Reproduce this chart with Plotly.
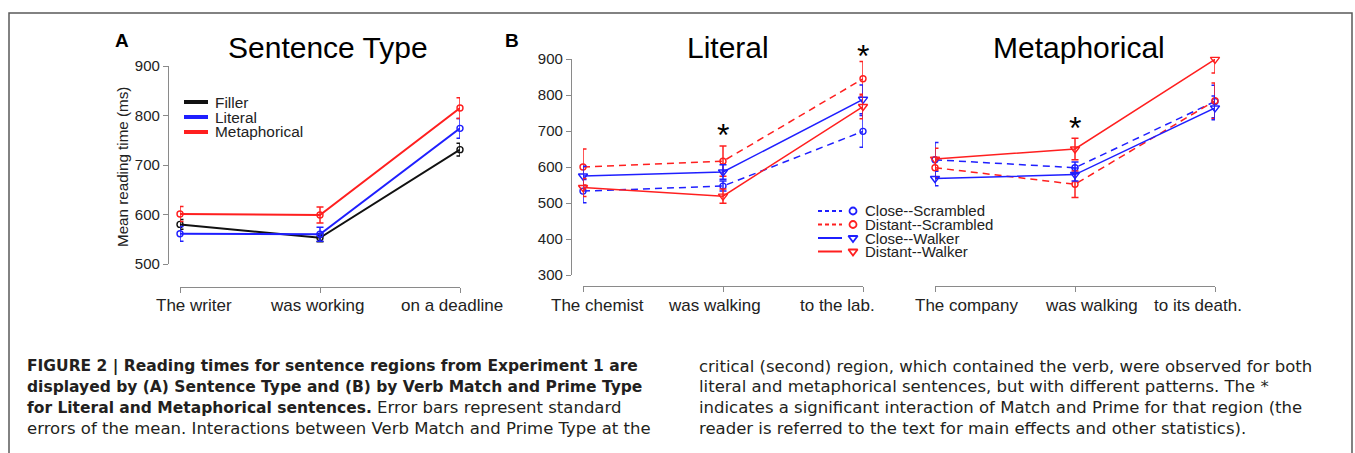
import plotly.graph_objects as go

W, H = 1355, 453

# ---------------- data ----------------
regions_a = ["The writer", "was working", "on a deadline"]
filler_rt = [580, 553, 731]
filler_se = [10, 8, 13]
literal_rt = [561, 560, 774]
literal_se = [15, 14, 20]
metaphor_rt = [601, 599, 815]
metaphor_se = [15, 16, 21]

regions_lit = ["The chemist", "was walking", "to the lab."]
lit_close_scr = [533, 547, 699]
lit_close_scr_se = [32, 14, 44]
lit_dist_scr = [600, 616, 845]
lit_dist_scr_se = [50, 42, 48]
lit_close_walk = [575, 586, 788]
lit_close_walk_se = [27, 20, 40]
lit_dist_walk = [543, 519, 768]
lit_dist_walk_se = [25, 20, 34]

regions_met = ["The company", "was walking", "to its death."]
met_close_scr = [620, 598, 782]
met_close_scr_se = [48, 16, 45]
met_dist_scr = [598, 552, 784]
met_dist_scr_se = [28, 37, 49]
met_close_walk = [568, 579, 764]
met_close_walk_se = [20, 18, 33]
met_dist_walk = [622, 650, 899]
met_dist_walk_se = [30, 30, 38]

a_ticks = [500, 600, 700, 800, 900]
b_ticks = [300, 400, 500, 600, 700, 800, 900]

legend_a = ["Filler", "Literal", "Metaphorical"]
legend_b = ["Close--Scrambled", "Distant--Scrambled", "Close--Walker", "Distant--Walker"]
sig_regions_lit = [1, 2]
sig_regions_met = [1]

BOLD = '<b><span style="font-size:15.5px">%s</span></b>'
caption_left = [
    BOLD % "FIGURE 2 | Reading times for sentence regions from Experiment 1 are",
    BOLD % "displayed by (A) Sentence Type and (B) by Verb Match and Prime Type",
    BOLD % "for Literal and Metaphorical sentences." + " Error bars represent standard",
    "errors of the mean. Interactions between Verb Match and Prime Type at the",
]
caption_right = [
    "critical (second) region, which contained the verb, were observed for both",
    "literal and metaphorical sentences, but with different patterns. The *",
    "indicates a significant interaction of Match and Prime for that region (the",
    "reader is referred to the text for main effects and other statistics).",
]

# ---------------- helpers ----------------
def fx(px):
    return px / W


def fy(py):
    return 1 - py / H


FONT = "Liberation Sans, Arial, Helvetica, sans-serif"
CAPFONT = "DejaVu Sans, sans-serif"
BLUE = "#1f1fff"
RED = "#ff1f1f"
BLACK = "#111111"
AXC = "#8a8a8a"

fig = go.Figure()
idx = [0, 1, 2]


def add_series(vals, se, color, xa, ya, dash="solid", symbol="circle-open", width=1.5, msize=6):
    fig.add_trace(go.Scatter(
        x=idx, y=vals, xaxis=xa, yaxis=ya, mode="lines+markers",
        line=dict(color=color, width=width, dash=dash),
        marker=dict(symbol=symbol, size=msize, color=color, line=dict(color=color, width=1.4)),
        error_y=dict(type="data", array=se, color=color, thickness=1.5, width=3.5),
        cliponaxis=False, showlegend=False, hoverinfo="skip",
    ))


# Panel A
add_series(filler_rt, filler_se, BLACK, "x", "y", width=2)
add_series(literal_rt, literal_se, BLUE, "x", "y", width=2)
add_series(metaphor_rt, metaphor_se, RED, "x", "y", width=2)

DASH = "7px,5px"
# Panel B literal
add_series(lit_close_scr, lit_close_scr_se, BLUE, "x2", "y2", dash=DASH)
add_series(lit_dist_scr, lit_dist_scr_se, RED, "x2", "y2", dash=DASH)
add_series(lit_close_walk, lit_close_walk_se, BLUE, "x2", "y2", symbol="triangle-down-open", msize=8)
add_series(lit_dist_walk, lit_dist_walk_se, RED, "x2", "y2", symbol="triangle-down-open", msize=8)
# Panel B metaphorical
add_series(met_close_scr, met_close_scr_se, BLUE, "x3", "y3", dash=DASH)
add_series(met_dist_scr, met_dist_scr_se, RED, "x3", "y3", dash=DASH)
add_series(met_close_walk, met_close_walk_se, BLUE, "x3", "y3", symbol="triangle-down-open", msize=8)
add_series(met_dist_walk, met_dist_walk_se, RED, "x3", "y3", symbol="triangle-down-open", msize=8)

# legend B markers on a hidden pixel axis
leg_b_styles = [(BLUE, DASH, "circle-open"), (RED, DASH, "circle-open"),
                (BLUE, "solid", "triangle-down-open"), (RED, "solid", "triangle-down-open")]
leg_b_rows = [211, 224.5, 238, 251.5]
for (c, d, s), yy in zip(leg_b_styles, leg_b_rows):
    fig.add_trace(go.Scatter(x=[853], y=[yy], xaxis="x4", yaxis="y4", mode="markers",
                             marker=dict(symbol=s, size=8 if "triangle" in s else 7, color=c,
                                         line=dict(color=c, width=1.8)),
                             showlegend=False, hoverinfo="skip", cliponaxis=False))

common = dict(showgrid=False, zeroline=False, showline=True, linecolor=AXC, linewidth=1.2,
              ticks="outside", ticklen=5, tickcolor=AXC, tickwidth=1.2, automargin=False,
              tickfont=dict(family=FONT, size=15, color="#222"))

fig.update_layout(
    width=W, height=H, margin=dict(l=0, r=0, t=0, b=0, pad=0, autoexpand=False), autosize=False,
    paper_bgcolor="white", plot_bgcolor="rgba(0,0,0,0)",
    xaxis=dict(domain=[fx(180), fx(460)], range=[0, 2], tickvals=idx, showticklabels=False,
               anchor="free", position=fy(286.5), **common),
    yaxis=dict(domain=[fy(264), fy(66)], range=[500, 900], tickvals=a_ticks,
               anchor="free", position=fx(168), **common),
    xaxis2=dict(domain=[fx(583), fx(863)], range=[0, 2], tickvals=idx, showticklabels=False,
                anchor="free", position=fy(286), **common),
    yaxis2=dict(domain=[fy(275), fy(59)], range=[300, 900], tickvals=b_ticks,
                anchor="free", position=fx(571), **common),
    xaxis3=dict(domain=[fx(935), fx(1215)], range=[0, 2], tickvals=idx, showticklabels=False,
                anchor="free", position=fy(286), **common),
    yaxis3=dict(domain=[fy(275), fy(59)], range=[300, 900], visible=False, anchor="x3", automargin=False),
    xaxis4=dict(domain=[0, 1], range=[0, W], visible=False, anchor="y4", automargin=False),
    yaxis4=dict(domain=[0, 1], range=[H, 0], visible=False, anchor="x4", automargin=False),
)

ann = []
shapes = []

# frame
shapes.append(dict(type="rect", xref="paper", yref="paper", x0=fx(9), x1=fx(1352), y0=fy(13), y1=-0.2,
                   line=dict(color="#5a5a5a", width=1.5), fillcolor="rgba(0,0,0,0)"))

# x tick labels
for regs, xa, shifts in [(regions_a, "x", [14, -3, -8]), (regions_lit, "x2", [14, -9, -26]),
                         (regions_met, "x3", [31, 16, -17])]:
    for i, (r, s) in enumerate(zip(regs, shifts)):
        ann.append(dict(x=i, xref=xa, y=fy(305), yref="paper", text=r, showarrow=False,
                        xshift=s, xanchor="center", yanchor="middle",
                        font=dict(family=FONT, size=17, color="#222")))

# titles
for t, x in [("Sentence Type", 328), ("Literal", 728), ("Metaphorical", 1079)]:
    ann.append(dict(x=fx(x), y=fy(48), xref="paper", yref="paper", text=t, showarrow=False,
                    xanchor="center", yanchor="middle", font=dict(family=FONT, size=30, color="black")))
# panel letters
for t, x in [("A", 122), ("B", 512)]:
    ann.append(dict(x=fx(x), y=fy(40), xref="paper", yref="paper", text="<b>%s</b>" % t, showarrow=False,
                    xanchor="center", yanchor="middle", font=dict(family=FONT, size=19, color="black")))
# y title
ann.append(dict(x=fx(122), y=fy(167), xref="paper", yref="paper", text="Mean reading time (ms)",
                textangle=-90, showarrow=False, xanchor="center", yanchor="middle",
                font=dict(family=FONT, size=15.2, color="#222")))

# stars
for r, py in zip(sig_regions_lit, [127, 48]):
    ann.append(dict(x=r, xref="x2", y=fy(py + 8), yref="paper", text="*", showarrow=False,
                    xanchor="center", yanchor="middle", font=dict(family=FONT, size=32, color="black")))
for r, py in zip(sig_regions_met, [120]):
    ann.append(dict(x=r, xref="x3", y=fy(py + 8), yref="paper", text="*", showarrow=False,
                    xanchor="center", yanchor="middle", font=dict(family=FONT, size=32, color="black")))

# legend A
for name, c, yy in zip(legend_a, [BLACK, BLUE, RED], [102, 117, 132]):
    shapes.append(dict(type="line", xref="paper", yref="paper", x0=fx(184), x1=fx(208), y0=fy(yy), y1=fy(yy),
                       line=dict(color=c, width=4)))
    ann.append(dict(x=fx(213), y=fy(yy), xref="paper", yref="paper", text=name, showarrow=False,
                    xanchor="left", yanchor="middle", font=dict(family=FONT, size=15.4, color="#222")))

# legend B
for name, (c, d, s), yy in zip(legend_b, leg_b_styles, leg_b_rows):
    shapes.append(dict(type="line", xref="paper", yref="paper", x0=fx(818), x1=fx(842), y0=fy(yy), y1=fy(yy),
                       line=dict(color=c, width=2, dash="4px,3px" if d != "solid" else "solid")))
    ann.append(dict(x=fx(863), y=fy(yy), xref="paper", yref="paper", text=name, showarrow=False,
                    xanchor="left", yanchor="middle", font=dict(family=FONT, size=15, color="#222")))

# caption
for lines, x0 in [(caption_left, 25), (caption_right, 697)]:
    for i, line in enumerate(lines):
        ann.append(dict(x=fx(x0), y=fy(366 + 20.8 * i), xref="paper", yref="paper", text=line,
                        showarrow=False, xanchor="left", yanchor="middle",
                        font=dict(family=CAPFONT, size=16.5, color="#231f20")))

fig.update_layout(annotations=ann, shapes=shapes)

post = "document.documentElement.style.margin='0';document.body.style.margin='0';document.body.style.overflow='hidden';"
fig.write_html("out.html", config={"displayModeBar": False}, post_script=post)
